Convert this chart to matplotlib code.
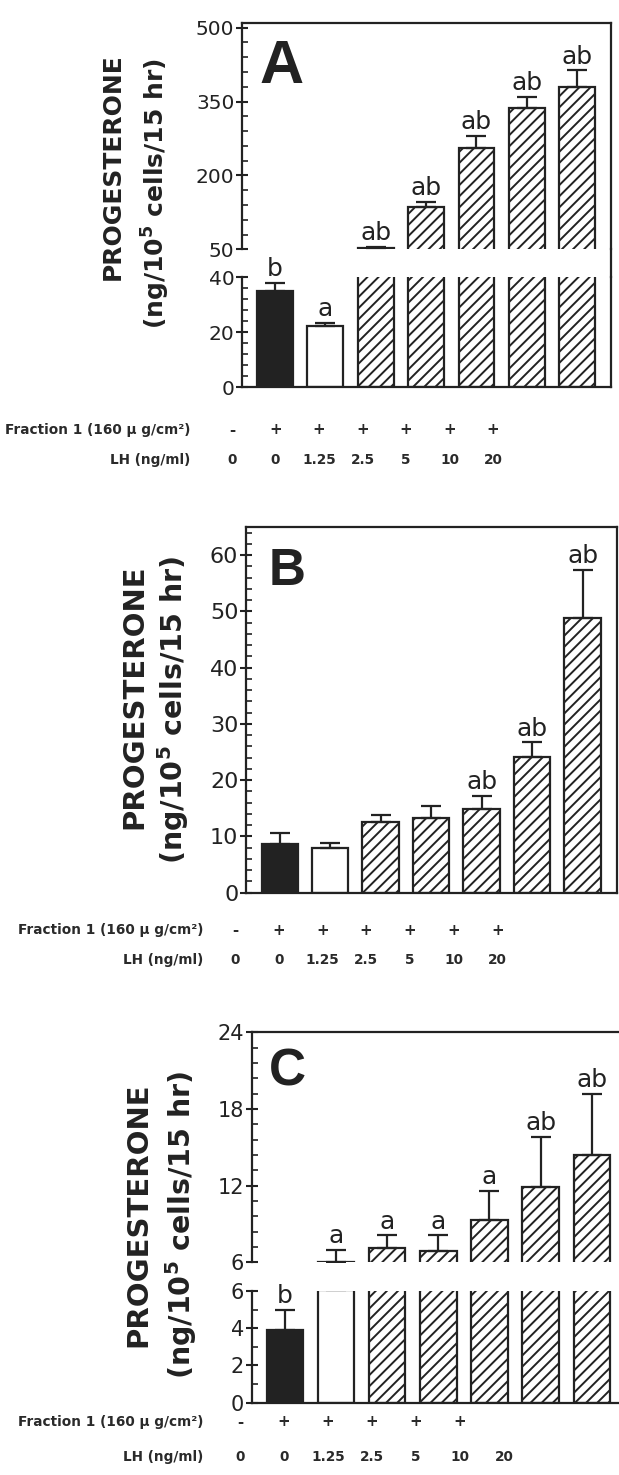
import numpy as np
import matplotlib
matplotlib.use("Agg")
import matplotlib.pyplot as plt
from matplotlib.lines import Line2D
from matplotlib.ticker import FixedLocator

# ---------------- data ----------------
lh_labels = ['0', '0', '1.25', '2.5', '5', '10', '20']
fraction_signs = ['-', '+', '+', '+', '+', '+', '+']
fraction_signs_c = ['-', '+', '+', '+', '+', '+', '']

a_means = [35, 22.3, 53, 135, 255, 336, 379]
a_err = [3, 1.2, 2, 12, 25, 24, 34]
a_letters = ['b', 'a', 'ab', 'ab', 'ab', 'ab', 'ab']

b_means = [8.6, 7.9, 12.5, 13.2, 14.9, 24.2, 48.9]
b_err = [2.1, 1.0, 1.3, 2.2, 2.3, 2.5, 8.4]
b_letters = ['', '', '', '', 'ab', 'ab', 'ab']

c_means = [3.9, 6.05, 7.1, 6.85, 9.3, 11.9, 14.4]
c_err = [1.1, 0.95, 1.0, 1.25, 2.3, 3.9, 4.8]
c_letters = ['b', 'a', 'a', 'a', 'a', 'ab', 'ab']

# ---------------- figure ----------------
W, H, DPI = 619, 1475, 100
INK = '#222222'
plt.rcParams['hatch.linewidth'] = 1.4
plt.rcParams['mathtext.default'] = 'bf'
plt.rcParams['font.family'] = ['DejaVu Sans']
fig = plt.figure(figsize=(W / DPI, H / DPI), dpi=DPI, facecolor='white')

bar_colors = [INK, 'white'] + ['white'] * 5
bar_hatches = [None, None] + ['///'] * 5


def add_axes_px(left, right, top, bottom):
    return fig.add_axes([left / W, 1 - bottom / H, (right - left) / W, (bottom - top) / H])


def style_axes(ax, major, minor, fs, hide=None):
    for s in ['left', 'right', 'top', 'bottom']:
        ax.spines[s].set_linewidth(1.6)
        ax.spines[s].set_color(INK)
    if hide:
        ax.spines[hide].set_visible(False)
    ax.yaxis.set_major_locator(FixedLocator(major))
    ax.yaxis.set_minor_locator(FixedLocator(minor))
    ax.tick_params(axis='y', which='major', direction='inout', length=9, width=1.5,
                   pad=1, labelsize=fs, colors=INK)
    ax.tick_params(axis='y', which='minor', direction='in', length=4, width=1.2, colors=INK)
    ax.tick_params(axis='x', which='both', bottom=False, labelbottom=False)
    ax.patch.set_alpha(0)


def draw_bars(ax, means, errs, width):
    x = np.arange(len(means))
    bars = ax.bar(x, means, width, color=bar_colors, edgecolor=INK, linewidth=1.6, zorder=2)
    for b, h in zip(bars, bar_hatches):
        if h:
            b.set_hatch(h)
    ax.errorbar(x, means, yerr=[np.zeros(len(errs)), errs], fmt='none', ecolor=INK,
                elinewidth=1.6, capsize=7, capthick=1.6, zorder=3)


def draw_letters(axes_ranges, means, errs, letters, fs=18):
    for i, (m, e, lab) in enumerate(zip(means, errs, letters)):
        if not lab:
            continue
        top = m + e
        for ax, lo, hi in axes_ranges:
            if lo <= top <= hi:
                ax.annotate(lab, (i, top), xytext=(0, 5), textcoords='offset points',
                            ha='center', va='baseline', fontsize=fs, color=INK)
                break


def ylabel(x1, y1, x2, y2, fs1, fs2):
    fig.text(x1 / W, 1 - y1 / H, 'PROGESTERONE', rotation=90, ha='center', va='center',
             fontsize=fs1, fontweight='bold', color=INK)
    fig.text(x2 / W, 1 - y2 / H, '(ng/10$^{5}$ cells/15 hr)', rotation=90, ha='center',
             va='center', fontsize=fs2, fontweight='bold', color=INK)


def panel_letter(letter, x, y, fs):
    fig.text(x / W, 1 - y / H, letter, ha='left', va='baseline', fontsize=fs,
             fontweight='bold', family='Liberation Sans', color=INK)


def table(y1, y2, right, x0, dx, signs):
    fs = 9.8
    col = '#2a2a2a'
    fig.text(right / W, 1 - y1 / H, 'Fraction 1 (160 \u00b5 g/cm\u00b2)', ha='right', va='center',
             fontsize=fs, fontweight='bold', color=col)
    fig.text(right / W, 1 - y2 / H, 'LH (ng/ml)', ha='right', va='center',
             fontsize=fs, fontweight='bold', color=col)
    for i, (s, lab) in enumerate(zip(signs, lh_labels)):
        xc = (x0 + dx * i) / W
        fig.text(xc, 1 - y1 / H, s, ha='center', va='center', fontsize=fs + 1,
                 fontweight='bold', color=col)
        fig.text(xc, 1 - y2 / H, lab, ha='center', va='center', fontsize=fs,
                 fontweight='bold', color=col)


# ---------------- Panel A (broken axis) ----------------
axA_up = add_axes_px(242, 611, 22.7, 249.3)
axA_lo = add_axes_px(242, 611, 277.3, 387.3)
for ax in (axA_up, axA_lo):
    draw_bars(ax, a_means, a_err, 0.71)
    ax.set_xlim(-0.655, 6.67)
axA_up.set_ylim(50, 510)
axA_lo.set_ylim(0, 40)
style_axes(axA_up, [50, 200, 350, 500], np.arange(50, 501, 30), 14.5, hide='bottom')
style_axes(axA_lo, [0, 20, 40], np.arange(0, 41, 4), 14.5, hide='top')
draw_letters([(axA_lo, 0, 40), (axA_up, 50, 510)], a_means, a_err, a_letters)
pu, pl = axA_up.get_position(), axA_lo.get_position()
fig.add_artist(Line2D([pu.x1, pu.x1], [pl.y1, pu.y0], transform=fig.transFigure,
                      color=INK, linewidth=1.6))
panel_letter('A', 259, 83, 44)
ylabel(113, 167, 156, 194, 18, 18)
table(430, 460, 190, 232, 43.5, fraction_signs)

# ---------------- Panel B ----------------
axB = add_axes_px(246, 617, 527, 892.7)
draw_bars(axB, b_means, b_err, 0.72)
axB.set_xlim(-0.667, 6.68)
axB.set_ylim(0, 65)
style_axes(axB, np.arange(0, 61, 10), np.arange(0, 65, 2), 16)
draw_letters([(axB, 0, 65)], b_means, b_err, b_letters)
panel_letter('B', 269, 585, 37)
ylabel(134, 697, 173, 710, 21, 20.5)
table(930, 960, 203, 235, 43.7, fraction_signs)

# ---------------- Panel C (broken axis) ----------------
axC_up = add_axes_px(251.7, 625, 1032.3, 1262.3)
axC_lo = add_axes_px(251.7, 625, 1291, 1402.7)
for ax in (axC_up, axC_lo):
    draw_bars(ax, c_means, c_err, 0.71)
    ax.set_xlim(-0.65, 6.65)
axC_up.set_ylim(6, 24)
axC_lo.set_ylim(0, 6)
style_axes(axC_up, [6, 12, 18, 24], np.arange(6, 24.01, 1.2), 15, hide='bottom')
style_axes(axC_lo, [0, 2, 4, 6], np.arange(0, 6.01, 1), 15, hide='top')
draw_letters([(axC_lo, 0, 6), (axC_up, 6, 24)], c_means, c_err, c_letters)
panel_letter('C', 269, 1085, 37)
ylabel(138, 1215, 181, 1225, 21, 20.5)
table(1422, 1457, 203, 240, 44, fraction_signs_c)

fig.savefig('out.png', dpi=DPI, facecolor='white')
